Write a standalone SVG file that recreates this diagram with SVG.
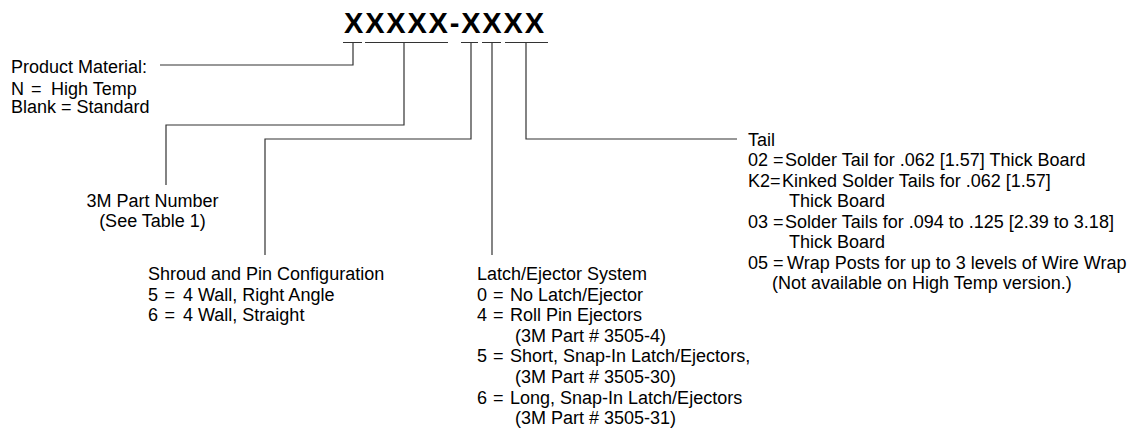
<svg xmlns="http://www.w3.org/2000/svg" width="1142" height="428" viewBox="0 0 1142 428">
<style>
.t{font-family:"Liberation Sans",Arial,Helvetica,sans-serif;font-size:18px;fill:#000}
.title{font-family:"Liberation Sans",Arial,Helvetica,sans-serif;font-size:29px;font-weight:bold;fill:#000}
.ln{fill:none;stroke:#333;stroke-width:1.2}
</style>
<rect width="1142" height="428" fill="#fff"/>
<g id="code">
<text class="title" x="344" y="33" textLength="200" lengthAdjust="spacing">XXXXX-XXXX</text>
<path class="ln" d="M343 42.5H362M365 42.5H448M461 42.5H478M482 42.5H501M505 42.5H548"/>
</g>
<g id="connectors">
<path class="ln" d="M353 42.5V65H160"/>
<path class="ln" d="M404 42.5V125H166V185"/>
<path class="ln" d="M471 42.5V139H265V255"/>
<path class="ln" d="M492 42.5V255"/>
<path class="ln" d="M526 42.5V139H737"/>
</g>
<g id="material">
<text class="t" x="11" y="73">Product Material:</text>
<text class="t" y="95"><tspan x="11">N</tspan><tspan x="31">=</tspan><tspan x="51">High Temp</tspan></text>
<text class="t" x="11" y="113">Blank = Standard</text>
</g>
<g id="partnumber">
<text class="t" x="152.5" y="207" text-anchor="middle">3M Part Number</text>
<text class="t" x="152.5" y="227" text-anchor="middle">(See Table 1)</text>
</g>
<g id="shroud">
<text class="t" x="148" y="280">Shroud and Pin Configuration</text>
<text class="t" y="300.5"><tspan x="148">5</tspan><tspan x="164.5">=</tspan><tspan x="183">4 Wall, Right Angle</tspan></text>
<text class="t" y="321"><tspan x="148">6</tspan><tspan x="164.5">=</tspan><tspan x="183">4 Wall, Straight</tspan></text>
</g>
<g id="latch">
<text class="t" x="477" y="280">Latch/Ejector System</text>
<text class="t" y="300.6"><tspan x="477">0</tspan><tspan x="493">=</tspan><tspan x="510">No Latch/Ejector</tspan></text>
<text class="t" y="321.2"><tspan x="477">4</tspan><tspan x="493">=</tspan><tspan x="510">Roll Pin Ejectors</tspan></text>
<text class="t" x="515" y="341.8">(3M Part # 3505-4)</text>
<text class="t" y="362.4"><tspan x="477">5</tspan><tspan x="493">=</tspan><tspan x="510">Short, Snap-In Latch/Ejectors,</tspan></text>
<text class="t" x="515" y="383">(3M Part # 3505-30)</text>
<text class="t" y="403.6"><tspan x="477">6</tspan><tspan x="493">=</tspan><tspan x="510">Long, Snap-In Latch/Ejectors</tspan></text>
<text class="t" x="515" y="424.2">(3M Part # 3505-31)</text>
</g>
<g id="tail">
<text class="t" x="748" y="145.5">Tail</text>
<text class="t" y="166"><tspan x="748">02 =</tspan><tspan x="785">Solder Tail for .062 [1.57] Thick Board</tspan></text>
<text class="t" y="186.5"><tspan x="748">K2=</tspan><tspan x="782">Kinked Solder Tails for .062 [1.57]</tspan></text>
<text class="t" x="789" y="207">Thick Board</text>
<text class="t" y="227.5"><tspan x="748">03 =</tspan><tspan x="785">Solder Tails for .094 to .125 [2.39 to 3.18]</tspan></text>
<text class="t" x="789" y="248">Thick Board</text>
<text class="t" y="268.5"><tspan x="748">05 =</tspan><tspan x="787">Wrap Posts for up to 3 levels of Wire Wrap</tspan></text>
<text class="t" x="772" y="289">(Not available on High Temp version.)</text>
</g>
</svg>
